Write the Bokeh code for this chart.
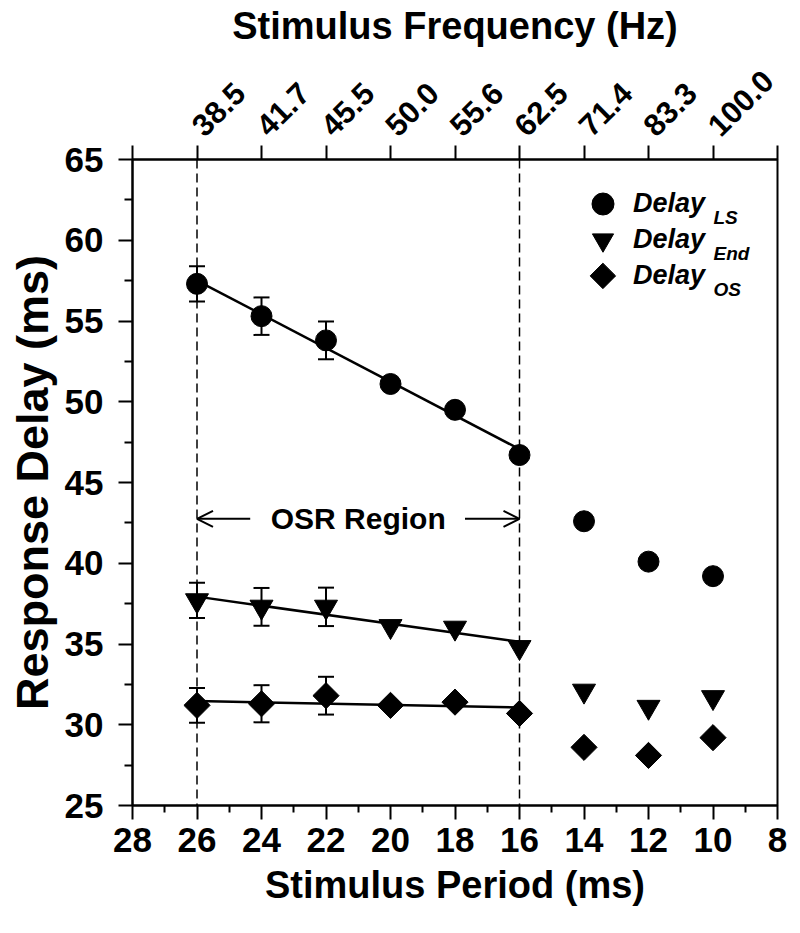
import math
import numpy as np
from bokeh.plotting import figure
from bokeh.models import (Range1d, LinearAxis, FixedTicker, Span, Whisker, TeeHead,
                          ColumnDataSource, Label, Arrow, OpenHead, Legend, LegendItem)
from bokeh.embed import file_html
from bokeh.resources import INLINE

# ---------------- data ----------------
period = [26, 24, 22, 20, 18, 16, 14, 12, 10]
delay_ls = [57.3, 55.3, 53.8, 51.1, 49.5, 46.7, 42.6, 40.1, 39.2]
delay_end = [37.7, 37.3, 37.3, 36.1, 36.0, 34.8, 32.1, 31.1, 31.7]
delay_os = [31.2, 31.3, 31.8, 31.2, 31.4, 30.7, 28.6, 28.1, 29.2]

err_period = [26, 24, 22]
err_ls = [1.09, 1.16, 1.17]
err_end = [1.09, 1.17, 1.19]
err_os = [1.08, 1.15, 1.17]

osr_period = [26, 24, 22, 20, 18, 16]     # points used for the fitted lines
osr_bounds = [26, 16]

x_ticks = [28, 26, 24, 22, 20, 18, 16, 14, 12, 10, 8]
x_minor = [27, 25, 23, 21, 19, 17, 15, 13, 11, 9]
y_ticks = [25, 30, 35, 40, 45, 50, 55, 60, 65]
y_minor = [27.5, 32.5, 37.5, 42.5, 47.5, 52.5, 57.5, 62.5]
freq_ticks = [26, 24, 22, 20, 18, 16, 14, 12, 10]
freq_labels = ["38.5", "41.7", "45.5", "50.0", "55.6", "62.5", "71.4", "83.3", "100.0"]

# ---------------- figure ----------------
FONT = "Liberation Sans"
FW, FH = 645, 646
X0, X1, Y0, Y1 = 28, 8, 25, 65

p = figure(x_range=Range1d(X0, X1), y_range=Range1d(Y0, Y1),
           frame_width=FW, frame_height=FH,
           min_border_left=132, min_border_right=15, min_border_top=159, min_border_bottom=120,
           output_backend="svg", toolbar_location=None)
p.xgrid.visible = False
p.ygrid.visible = False
p.outline_line_color = "black"
p.outline_line_width = 2
p.outline_line_alpha = 1.0
p.background_fill_color = "white"
p.border_fill_color = "white"


def style_axis(ax, label_size="35px", title_size="38px"):
    ax.axis_line_width = 2
    ax.axis_line_color = "black"
    ax.major_tick_line_width = 2
    ax.minor_tick_line_width = 2
    ax.major_tick_line_color = "black"
    ax.minor_tick_line_color = "black"
    ax.major_tick_in = 0
    ax.minor_tick_in = 0
    ax.major_label_text_font = FONT
    ax.major_label_text_font_style = "bold"
    ax.major_label_text_font_size = label_size
    ax.major_label_text_color = "black"
    ax.axis_label_text_font = FONT
    ax.axis_label_text_font_style = "bold"
    ax.axis_label_text_font_size = title_size
    ax.axis_label_text_color = "black"


xa = p.xaxis[0]
style_axis(xa)
xa.ticker = FixedTicker(ticks=x_ticks, minor_ticks=x_minor)
xa.major_tick_out = 14
xa.minor_tick_out = 7
xa.major_label_standoff = 8
xa.axis_label = "Stimulus Period (ms)"
xa.axis_label_standoff = 9

ya = p.yaxis[0]
style_axis(ya, title_size="45px")
ya.ticker = FixedTicker(ticks=y_ticks, minor_ticks=y_minor)
ya.major_tick_out = 14
ya.minor_tick_out = 8
ya.major_label_standoff = 15
ya.axis_label = "Response Delay (ms)"
ya.axis_label_standoff = 4

overrides = {t: lab for t, lab in zip(freq_ticks, freq_labels)}
overrides[28] = ""
overrides[8] = ""
top = LinearAxis(ticker=FixedTicker(ticks=x_ticks, minor_ticks=[]),
                 major_label_overrides=overrides,
                 major_label_orientation=math.pi / 4,
                 axis_label="Stimulus Frequency (Hz)")
style_axis(top, "31px")
top.major_tick_out = 14
top.minor_tick_out = 0
top.major_label_standoff = 15
top.axis_label_standoff = 10
p.add_layout(top, "above")

# ---------------- OSR boundaries ----------------
for b in osr_bounds:
    p.add_layout(Span(location=b, dimension="height", line_color="black",
                      line_width=1.5, line_dash="9 5"))

# ---------------- error bars ----------------
for vals, errs in ((delay_ls, err_ls), (delay_end, err_end), (delay_os, err_os)):
    n = len(err_period)
    src = ColumnDataSource(dict(x=err_period,
                                upper=[vals[i] + errs[i] for i in range(n)],
                                lower=[vals[i] - errs[i] for i in range(n)]))
    p.add_layout(Whisker(base="x", upper="upper", lower="lower", source=src,
                         line_width=2, line_color="black",
                         upper_head=TeeHead(size=16, line_width=2, line_color="black"),
                         lower_head=TeeHead(size=16, line_width=2, line_color="black")))

# ---------------- fitted lines ----------------
nfit = len(osr_period)
for vals in (delay_ls, delay_end, delay_os):
    m, c = np.polyfit(osr_period, vals[:nfit], 1)
    xs = np.array(osr_bounds, dtype=float)
    p.line(xs, m * xs + c, line_color="black", line_width=2.5)

# ---------------- markers ----------------
r_ls = p.scatter(period, delay_ls, marker="circle", size=21, fill_color="black", line_color="black")
r_end = p.scatter(period, delay_end, marker="inverted_triangle", size=23, fill_color="black", line_color="black")
r_os = p.scatter(period, delay_os, marker="square", size=18.5, angle=math.pi / 4,
                 fill_color="black", line_color="black")


# ---------------- legend ----------------
def frame_to_data(px, py):
    return X0 + (X1 - X0) * px / FW, Y1 - (Y1 - Y0) * py / FH


leg_cx = 470.4
sub_x_px = 581.0
sub_baseline_off = 13.5

# the diamond key: Bokeh legends draw markers unrotated, so the rotated-square key
# is drawn at the legend position and the legend item itself carries no glyph
os_key_x, os_key_y = frame_to_data(leg_cx, 116.4)
p.scatter([os_key_x], [os_key_y], marker="square", size=18, angle=math.pi / 4,
          fill_color="black", line_color="black")
r_blank = p.scatter([os_key_x], [os_key_y], marker="square", size=1,
                    fill_alpha=0, line_alpha=0)

leg_specs = [  # renderer, glyph box, centre from frame top, standoff, subscript
    (r_ls, 55, 44.0, 3, "LS"),
    (r_end, 53, 80.0, 4, "End"),
    (r_blank, 45, 116.4, 8, "OS"),
]

for r, gw, cy, standoff, sub in leg_specs:
    leg = Legend(items=[LegendItem(label="Delay", renderers=[r])],
                 location=(leg_cx - gw / 2, FH - cy - gw / 2),
                 glyph_width=gw, glyph_height=gw, padding=0, margin=0,
                 label_standoff=standoff, label_height=gw,
                 border_line_alpha=0, background_fill_alpha=0,
                 label_text_font=FONT, label_text_font_style="bold italic",
                 label_text_font_size="27px", label_text_color="black")
    p.add_layout(leg)
    sx, sy = frame_to_data(sub_x_px, cy + sub_baseline_off)
    p.add_layout(Label(x=sx, y=sy, text=sub, text_font=FONT, text_font_style="bold italic",
                       text_font_size="19px", text_color="black",
                       text_align="left", text_baseline="alphabetic"))

# ---------------- OSR region annotation ----------------
osr_y = 42.75
p.add_layout(Label(x=sum(osr_bounds) / 2, y=osr_y, text="OSR Region", text_font=FONT,
                   text_font_style="bold", text_font_size="30px", text_color="black",
                   text_align="center", text_baseline="middle"))
p.add_layout(Arrow(x_start=24.35, y_start=osr_y, x_end=osr_bounds[0], y_end=osr_y,
                   line_width=2, line_color="black",
                   end=OpenHead(size=16, line_width=2, line_color="black")))
p.add_layout(Arrow(x_start=17.69, y_start=osr_y, x_end=osr_bounds[1], y_end=osr_y,
                   line_width=2, line_color="black",
                   end=OpenHead(size=16, line_width=2, line_color="black")))

open("out.html", "w").write(file_html(p, INLINE))
